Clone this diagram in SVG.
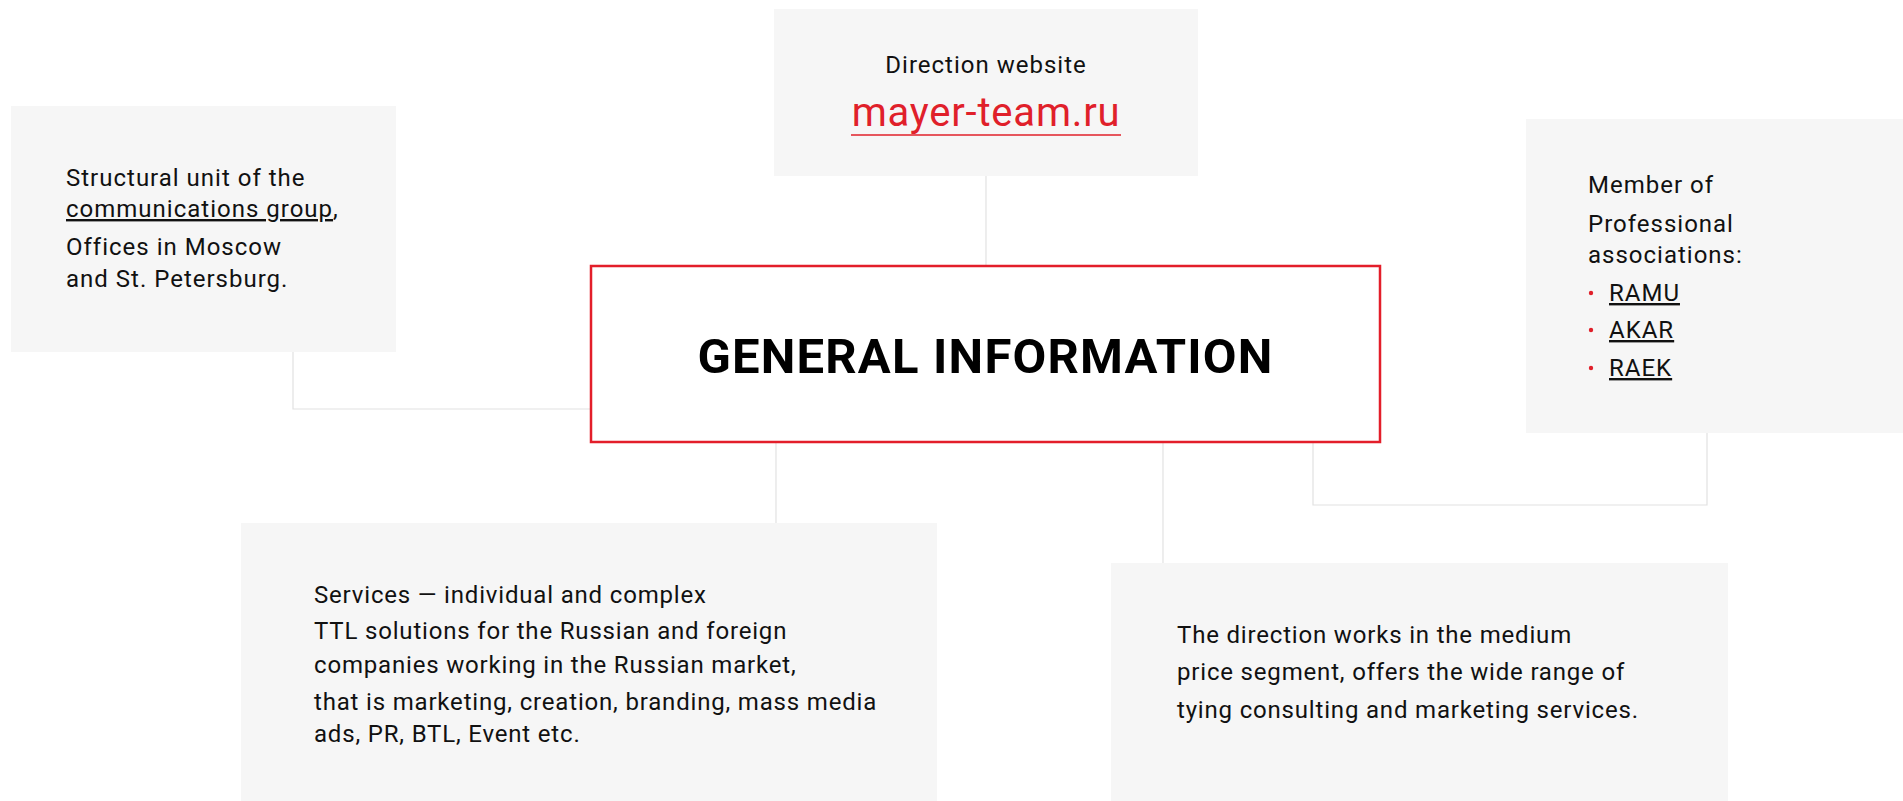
<svg xmlns="http://www.w3.org/2000/svg" width="1903" height="801" viewBox="0 0 1903 801">
<style>
.box{fill:#f6f6f6}
.t{font-family:Roboto,"Liberation Sans",sans-serif;font-size:24px;letter-spacing:1px;fill:#111}
.b{letter-spacing:0.82px}
.u{text-decoration:underline}
.link{font-family:Roboto,"Liberation Sans",sans-serif;font-size:40px;letter-spacing:0.8px;fill:#e0202a}
.title{font-family:Roboto,"Liberation Sans",sans-serif;font-size:49px;font-weight:bold;letter-spacing:1.2px;fill:#000}
.conn{fill:none;stroke:#e2e2e2;stroke-width:1.2}
.dot{fill:#e0202a}
</style>
<rect width="1903" height="801" fill="#fff"/>
<g id="connectors">
<path class="conn" d="M986 176V266"/>
<path class="conn" d="M293 352V409H591"/>
<path class="conn" d="M776 442V523"/>
<path class="conn" d="M1163 442V563"/>
<path class="conn" d="M1313 442V505H1707V433"/>
</g>
<g id="node-website">
<rect class="box" x="774" y="9" width="424" height="167"/>
<text class="t" x="986" y="73" text-anchor="middle">Direction website</text>
<text class="link" x="986" y="126" text-anchor="middle">mayer-team.ru</text>
<line x1="851" y1="135" x2="1121" y2="135" stroke="#e0202a" stroke-width="1.3"/>
</g>
<g id="node-structural">
<rect class="box" x="11" y="106" width="385" height="246"/>
<text class="t" x="66" y="186">Structural unit of the</text>
<text class="t" x="66" y="217"><tspan class="u">communications group</tspan>,</text>
<text class="t" x="66" y="255">Offices in Moscow</text>
<text class="t" x="66" y="287">and St. Petersburg.</text>
</g>
<g id="node-member">
<rect class="box" x="1526" y="119" width="377" height="314"/>
<text class="t" x="1588" y="193">Member of</text>
<text class="t" x="1588" y="232">Professional</text>
<text class="t" x="1588" y="263">associations:</text>
<circle class="dot" cx="1591" cy="293" r="2.2"/>
<circle class="dot" cx="1591" cy="330" r="2.2"/>
<circle class="dot" cx="1591" cy="368" r="2.2"/>
<text class="t u" x="1609" y="301">RAMU</text>
<text class="t u" x="1609" y="338">AKAR</text>
<text class="t u" x="1609" y="376">RAEK</text>
</g>
<g id="node-general">
<rect x="591" y="266" width="789" height="176" fill="#fff" stroke="#e31e2a" stroke-width="2.5"/>
<text class="title" x="985.5" y="373" text-anchor="middle">GENERAL INFORMATION</text>
</g>
<g id="node-services">
<rect class="box" x="241" y="523" width="696" height="278"/>
<text class="t b" x="314" y="603">Services — individual and complex</text>
<text class="t b" x="314" y="639">TTL solutions for the Russian and foreign</text>
<text class="t b" x="314" y="673">companies working in the Russian market,</text>
<text class="t b" x="314" y="710">that is marketing, creation, branding, mass media</text>
<text class="t b" x="314" y="742">ads, PR, BTL, Event etc.</text>
</g>
<g id="node-segment">
<rect class="box" x="1111" y="563" width="617" height="238"/>
<text class="t b" x="1177" y="643">The direction works in the medium</text>
<text class="t b" x="1177" y="680">price segment, offers the wide range of</text>
<text class="t b" x="1177" y="718">tying consulting and marketing services.</text>
</g>
</svg>
